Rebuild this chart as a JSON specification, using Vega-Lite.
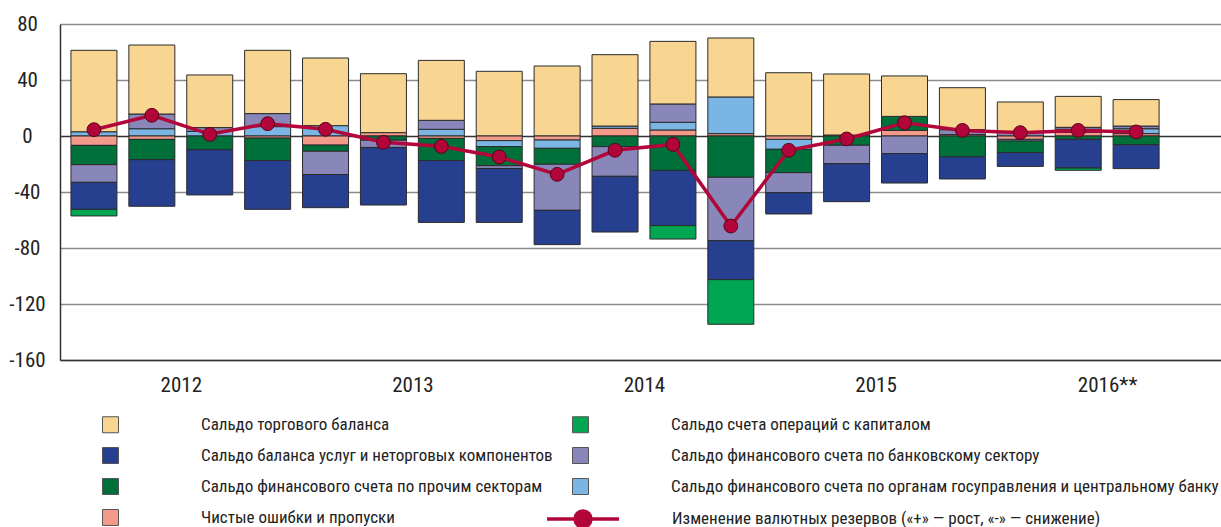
{
  "$schema": "https://vega.github.io/schema/vega-lite/v6.json",
  "width": 1161,
  "height": 336,
  "autosize": {"type": "none"},
  "padding": {"left": 60, "top": 24, "right": 0, "bottom": 167},
  "background": "white",
  "config": {
    "font": "Roboto Condensed, Roboto, sans-serif",
    "view": {"stroke": null}
  },
  "datasets": {
    "vals": [
      {"q":0,"c":"T","v":58.3},{"q":0,"c":"G","v":2.9},{"q":0,"c":"E","v":-6.7},{"q":0,"c":"O","v":-13.8},{"q":0,"c":"B","v":-12.6},{"q":0,"c":"S","v":-19.3},{"q":0,"c":"K","v":-4.7},{"q":0,"c":"R","v":4.5},
      {"q":1,"c":"G","v":5.2},{"q":1,"c":"B","v":10.5},{"q":1,"c":"T","v":49.3},{"q":1,"c":"E","v":-2.4},{"q":1,"c":"O","v":-14.5},{"q":1,"c":"S","v":-33.3},{"q":1,"c":"R","v":14.8},
      {"q":2,"c":"G","v":3.3},{"q":2,"c":"B","v":2.7},{"q":2,"c":"T","v":37.6},{"q":2,"c":"O","v":-9.8},{"q":2,"c":"S","v":-32.3},{"q":2,"c":"R","v":1.2},
      {"q":3,"c":"G","v":6.7},{"q":3,"c":"B","v":9.3},{"q":3,"c":"T","v":45.2},{"q":3,"c":"E","v":-1.5},{"q":3,"c":"O","v":-16.0},{"q":3,"c":"S","v":-34.9},{"q":3,"c":"R","v":8.8},
      {"q":4,"c":"G","v":7.4},{"q":4,"c":"T","v":48.3},{"q":4,"c":"E","v":-6.5},{"q":4,"c":"O","v":-4.4},{"q":4,"c":"B","v":-16.6},{"q":4,"c":"S","v":-23.7},{"q":4,"c":"R","v":4.8},
      {"q":5,"c":"E","v":2.4},{"q":5,"c":"T","v":42.1},{"q":5,"c":"O","v":-3.0},{"q":5,"c":"B","v":-5.2},{"q":5,"c":"S","v":-41.1},{"q":5,"c":"R","v":-4.5},
      {"q":6,"c":"G","v":4.8},{"q":6,"c":"B","v":6.4},{"q":6,"c":"T","v":42.8},{"q":6,"c":"E","v":-1.7},{"q":6,"c":"O","v":-15.8},{"q":6,"c":"S","v":-44.2},{"q":6,"c":"R","v":-7.4},
      {"q":7,"c":"T","v":46.2},{"q":7,"c":"E","v":-3.3},{"q":7,"c":"G","v":-4.3},{"q":7,"c":"O","v":-13.6},{"q":7,"c":"B","v":-2.0},{"q":7,"c":"S","v":-38.5},{"q":7,"c":"R","v":-15.0},
      {"q":8,"c":"T","v":50.0},{"q":8,"c":"E","v":-2.9},{"q":8,"c":"G","v":-5.9},{"q":8,"c":"O","v":-11.4},{"q":8,"c":"B","v":-32.9},{"q":8,"c":"S","v":-24.5},{"q":8,"c":"R","v":-27.4},
      {"q":9,"c":"E","v":5.5},{"q":9,"c":"G","v":1.6},{"q":9,"c":"T","v":51.0},{"q":9,"c":"O","v":-7.6},{"q":9,"c":"B","v":-21.2},{"q":9,"c":"S","v":-39.8},{"q":9,"c":"R","v":-10.2},
      {"q":10,"c":"E","v":4.3},{"q":10,"c":"G","v":5.5},{"q":10,"c":"B","v":13.1},{"q":10,"c":"T","v":44.7},{"q":10,"c":"O","v":-24.6},{"q":10,"c":"S","v":-39.4},{"q":10,"c":"K","v":-9.6},{"q":10,"c":"R","v":-6.0},
      {"q":11,"c":"E","v":1.7},{"q":11,"c":"G","v":26.2},{"q":11,"c":"T","v":42.1},{"q":11,"c":"O","v":-29.5},{"q":11,"c":"B","v":-45.3},{"q":11,"c":"S","v":-27.8},{"q":11,"c":"K","v":-31.9},{"q":11,"c":"R","v":-64.3},
      {"q":12,"c":"T","v":45.2},{"q":12,"c":"E","v":-2.4},{"q":12,"c":"G","v":-7.1},{"q":12,"c":"O","v":-16.7},{"q":12,"c":"B","v":-14.3},{"q":12,"c":"S","v":-15.2},{"q":12,"c":"R","v":-10.2},
      {"q":13,"c":"E","v":0.7},{"q":13,"c":"T","v":43.6},{"q":13,"c":"O","v":-6.6},{"q":13,"c":"B","v":-13.2},{"q":13,"c":"S","v":-27.1},{"q":13,"c":"R","v":-2.1},
      {"q":14,"c":"E","v":4.0},{"q":14,"c":"O","v":10.0},{"q":14,"c":"T","v":28.9},{"q":14,"c":"B","v":-12.6},{"q":14,"c":"S","v":-21.0},{"q":14,"c":"R","v":9.5},
      {"q":15,"c":"E","v":1.0},{"q":15,"c":"B","v":3.5},{"q":15,"c":"T","v":30.0},{"q":15,"c":"O","v":-14.8},{"q":15,"c":"S","v":-15.9},{"q":15,"c":"R","v":4.0},
      {"q":16,"c":"B","v":2.6},{"q":16,"c":"T","v":21.7},{"q":16,"c":"E","v":-2.4},{"q":16,"c":"G","v":-1.2},{"q":16,"c":"O","v":-8.2},{"q":16,"c":"S","v":-9.9},{"q":16,"c":"R","v":2.4},
      {"q":17,"c":"E","v":2.6},{"q":17,"c":"G","v":2.2},{"q":17,"c":"B","v":1.4},{"q":17,"c":"T","v":22.1},{"q":17,"c":"O","v":-2.4},{"q":17,"c":"S","v":-20.5},{"q":17,"c":"K","v":-1.6},{"q":17,"c":"R","v":4.0},
      {"q":18,"c":"E","v":1.7},{"q":18,"c":"G","v":3.5},{"q":18,"c":"B","v":1.9},{"q":18,"c":"T","v":18.9},{"q":18,"c":"O","v":-6.2},{"q":18,"c":"S","v":-17.1},{"q":18,"c":"R","v":2.9}
    ],
    "names": [
      {"c":"T","s":"Сальдо торгового баланса"},
      {"c":"K","s":"Сальдо счета операций с капиталом"},
      {"c":"S","s":"Сальдо баланса услуг и неторговых компонентов"},
      {"c":"B","s":"Сальдо финансового счета по банковскому сектору"},
      {"c":"O","s":"Сальдо финансового счета по прочим секторам"},
      {"c":"G","s":"Сальдо финансового счета по органам госуправления и центральному банку"},
      {"c":"E","s":"Чистые ошибки и пропуски"},
      {"c":"R","s":"Изменение валютных резервов («+» — рост, «-» — снижение)"}
    ],
    "years": [{"q":3.5},{"q":7.5},{"q":11.5},{"q":15.5}]
  },
  "encoding": {
    "x": {
      "field": "q", "type": "quantitative",
      "scale": {"domain": [-0.5, 19.38], "nice": false, "zero": false},
      "axis": {
        "orient": "bottom",
        "title": null, "grid": false, "ticks": false, "tickSize": 0,
        "values": [1.5, 5.5, 9.5, 13.5, 17.5],
        "labelExpr": "['2012','2013','2014','2015','2016**'][floor(datum.value/4)]",
        "labelFontSize": 21, "labelColor": "#222", "labelBaseline": "middle", "labelPadding": 25,
        "domainColor": "#333", "domainWidth": 1.5
      }
    },
    "y": {
      "field": "v", "type": "quantitative",
      "scale": {"domain": [-160, 80], "nice": false},
      "axis": {
        "orient": "left",
        "title": null, "ticks": false, "tickSize": 0,
        "values": [-160, -120, -80, -40, 0, 40, 80],
        "labelExpr": "'' + datum.value",
        "labelAlign": "center", "labelPadding": 33, "labelFontSize": 21, "labelColor": "#222",
        "domainColor": "#333", "domainWidth": 1.5,
        "grid": true, "gridWidth": 1.5,
        "gridColor": {"condition": {"test": "datum.value === 0", "value": "#333"}, "value": "#8c8c8c"}
      }
    }
  },
  "layer": [
    {
      "data": {"name": "vals"},
      "transform": [
        {"filter": "datum.c !== 'R'"},
        {"lookup": "c", "from": {"data": {"name": "names"}, "key": "c", "fields": ["s"]}},
        {"calculate": "indexof(['E','G','O','B','S','K','T'], datum.c)", "as": "o"}
      ],
      "mark": {"type": "bar", "size": 46, "stroke": "#2b2b2b", "strokeWidth": 1},
      "encoding": {
        "fill": {
          "field": "s", "type": "nominal",
          "scale": {
            "domain": [
              "Сальдо торгового баланса",
              "Сальдо баланса услуг и неторговых компонентов",
              "Сальдо финансового счета по прочим секторам",
              "Чистые ошибки и пропуски",
              "Сальдо счета операций с капиталом",
              "Сальдо финансового счета по банковскому сектору",
              "Сальдо финансового счета по органам госуправления и центральному банку"
            ],
            "range": ["#F8D591", "#273F8F", "#00703A", "#F49A8A", "#00A651", "#8987B9", "#7BB5E3"]
          },
          "legend": {
            "orient": "none", "legendX": 42, "legendY": 392,
            "columns": 2, "title": null, "padding": 0,
            "symbolSize": 256, "symbolType": "square",
            "labelFontSize": 17, "labelColor": "#222", "labelOffset": 82, "labelLimit": 2000,
            "columnPadding": 17, "rowPadding": 10,
            "symbolStrokeColor": "#555", "symbolStrokeWidth": 1, "symbolOpacity": 1
          }
        },
        "order": {"field": "o", "type": "quantitative"}
      }
    },
    {
      "data": {"name": "years"},
      "mark": {"type": "rule", "color": "#333", "strokeWidth": 1.3},
      "encoding": {
        "y": {"datum": -160},
        "y2": {"datum": 80}
      }
    },
    {
      "data": {"name": "vals"},
      "transform": [
        {"filter": "datum.c === 'R'"},
        {"lookup": "c", "from": {"data": {"name": "names"}, "key": "c", "fields": ["s"]}}
      ],
      "mark": {"type": "line", "strokeWidth": 3.5},
      "encoding": {
        "stroke": {
          "field": "s", "type": "nominal",
          "scale": {"domain": ["Изменение валютных резервов («+» — рост, «-» — снижение)"], "range": ["#B2063B"]},
          "legend": {
            "orient": "none", "legendX": 513, "legendY": 485,
            "title": null, "padding": 0,
            "symbolSize": 256,
            "symbolType": "M-4.5,0L-1,0M1,0L4.5,0M-1,0A1,1,0,1,1,1,0A1,1,0,1,1,-1,0Z",
            "symbolStrokeWidth": 3.5, "symbolFillColor": "#B2063B",
            "labelFontSize": 17, "labelColor": "#222", "labelOffset": 79, "labelLimit": 2000
          }
        }
      }
    },
    {
      "data": {"name": "vals"},
      "transform": [{"filter": "datum.c === 'R'"}],
      "mark": {"type": "point", "filled": true, "size": 190, "fill": "#B2063B", "stroke": "#5a0018", "strokeWidth": 1, "opacity": 1}
    }
  ]
}
